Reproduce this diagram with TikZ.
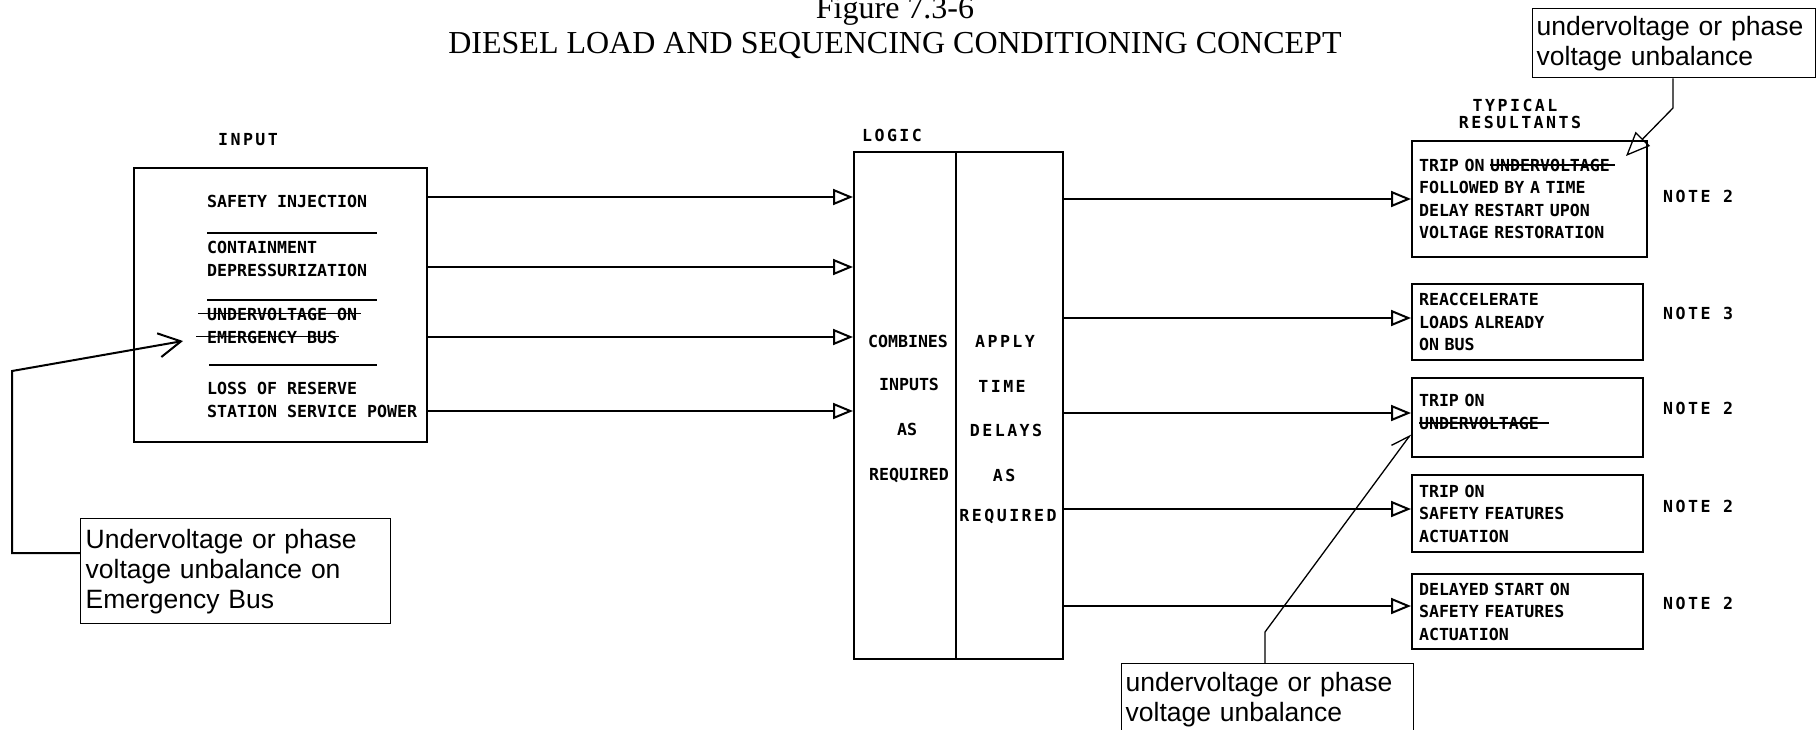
\documentclass[tikz,border=0pt]{standalone}
\usepackage{fontspec}
\setmainfont{Liberation Serif}
\newfontfamily\callfont{Liberation Sans}
\newfontfamily\letfont{DejaVu Sans Mono}
\newfontfamily\widefont[LetterSpace=15]{DejaVu Sans Mono}
\usetikzlibrary{arrows.meta}
\newcommand\strk[3]{\leavevmode\setbox0\hbox{#3}\rlap{\kern-#1\rule[0.34em]{\dimexpr\wd0+#1+#2\relax}{1.4pt}}\box0}
\begin{document}
\begin{tikzpicture}[x=1pt,y=-1pt,
  lw/.style={line width=2pt},
  thin/.style={line width=1.3pt},
  lettr/.style={font=\letfont\bfseries\fontsize{16.6}{22.5}\selectfont, inner sep=0pt},
  widelet/.style={font=\widefont\bfseries\fontsize{16.6}{22.5}\selectfont, inner sep=0pt},
  rbox/.style={draw, lw, anchor=north west, inner xsep=7pt, inner ysep=0pt, align=left,
    font=\letfont\bfseries\fontsize{16.6}{22.5}\selectfont},
  callbox/.style={draw, thin, anchor=north west, inner xsep=4pt, inner ysep=0pt, align=left,
    font=\callfont\fontsize{26.5}{30}\selectfont},
  flow/.style={lw, -{Triangle[open, length=20pt, width=16pt]}},
  sepline/.style={lw}
]
\useasboundingbox (0,0) rectangle (1820,729);

% title
\node[font=\fontsize{32}{36}\selectfont, anchor=base] (fig) at (895,18) {Figure 7.3-6};
\node[font=\fontsize{32}{36}\selectfont, anchor=base] (title) at (895,53) {DIESEL LOAD AND SEQUENCING CONDITIONING CONCEPT};

% input box
\node[draw, lw, anchor=north west, minimum width=293pt, minimum height=274pt, inner sep=0pt] (inbox) at (133,167) {};
\node[widelet] (inlbl) at (248,140) {INPUT};
\node[lettr, anchor=west] (i1) at (207,201) {SAFETY INJECTION};
\coordinate (s1a) at (207,233); \coordinate (s1b) at (377,233);
\draw[sepline] (s1a) -- (s1b);
\node[lettr, anchor=west] (i2a) at (207,247) {CONTAINMENT};
\node[lettr, anchor=west] (i2b) at (207,270) {DEPRESSURIZATION};
\coordinate (s2a) at (207,300); \coordinate (s2b) at (377,300);
\draw[sepline] (s2a) -- (s2b);
\node[lettr, anchor=west] (i3a) at (207,314) {\strk{9pt}{4pt}{UNDERVOLTAGE ON}};
\node[lettr, anchor=west] (i3b) at (207,337) {\strk{11pt}{2pt}{EMERGENCY BUS}};
\coordinate (s3a) at (209,365); \coordinate (s3b) at (377,365);
\draw[sepline] (s3a) -- (s3b);
\node[lettr, anchor=west] (i4a) at (207,388) {LOSS OF RESERVE};
\node[lettr, anchor=west] (i4b) at (207,411) {STATION SERVICE POWER};

% logic box
\node[draw, lw, anchor=north west, minimum width=209pt, minimum height=507pt, inner sep=0pt] (logic) at (853,151) {};
\node[widelet] (loglbl) at (892,135) {LOGIC};
\coordinate (div) at (956,0);
\draw[lw] (logic.north -| div) -- (logic.south -| div);
\node[lettr] (l1) at (908,341) {COMBINES};
\node[lettr] (l2) at (909,384) {INPUTS};
\node[lettr] (l3) at (907,429) {AS};
\node[lettr] (l4) at (909,475) {REQUIRED};
\node[widelet] (r1) at (1005,341) {APPLY};
\node[widelet] (r2) at (1002,386) {TIME};
\node[widelet] (r3) at (1006,430) {DELAYS};
\node[widelet] (r4) at (1004,475) {AS};
\node[widelet] (r5) at (1008,516) {REQUIRED};

% input -> logic
\foreach \y [count=\k] in {197,267,337,411}{
  \coordinate (ia\k) at (0,\y);
  \draw[flow] (inbox.east |- ia\k) -- (logic.west |- ia\k);
}

% resultants
\node[widelet] (typ1) at (1515,105) {TYPICAL};
\node[widelet] (typ2) at (1520,122) {RESULTANTS};
\node[rbox, text width=221pt, minimum height=116pt] (b1) at (1411,140)
  {TRIP ON \strk{0pt}{5pt}{UNDERVOLTAGE}\\FOLLOWED BY A TIME\\DELAY RESTART UPON\\VOLTAGE RESTORATION};
\node[rbox, text width=217pt, minimum height=76pt] (b2) at (1411,283)
  {REACCELERATE\\LOADS ALREADY\\ON BUS};
\node[rbox, text width=217pt, minimum height=79pt] (b3) at (1411,377)
  {TRIP ON\\\strk{0pt}{10pt}{UNDERVOLTAGE}\\[-11pt]\mbox{}};
\node[rbox, text width=217pt, minimum height=77pt] (b4) at (1411,474)
  {TRIP ON\\SAFETY FEATURES\\ACTUATION};
\node[rbox, text width=217pt, minimum height=75pt] (b5) at (1411,573)
  {DELAYED START ON\\SAFETY FEATURES\\ACTUATION};
\node[widelet, anchor=west] (n1) at (1663,196) {NOTE 2};
\node[widelet, anchor=west] (n2) at (1663,313) {NOTE 3};
\node[widelet, anchor=west] (n3) at (1663,408) {NOTE 2};
\node[widelet, anchor=west] (n4) at (1663,506) {NOTE 2};
\node[widelet, anchor=west] (n5) at (1663,603) {NOTE 2};

% logic -> resultants
\foreach \y/\b in {199/b1,318/b2,413/b3,509/b4,606/b5}{
  \coordinate (oa) at (0,\y);
  \draw[flow] (logic.east |- oa) -- (\b.west |- oa);
}

% callouts
\node[callbox, text width=275pt, minimum height=69pt] (c1) at (1532,8) {undervoltage or phase\\voltage unbalance};
\coordinate (k1) at (1673,108);
\coordinate (t1) at (1626,156);
\draw[thin, -{Triangle[open, length=24pt, width=20pt]}] (c1.south -| k1) -- (k1) -- (t1);

\node[callbox, text width=300pt, minimum height=105pt, inner xsep=5pt] (c2) at (80,518) {Undervoltage or phase\\voltage unbalance on\\Emergency Bus};
\coordinate (k2a) at (12,553);
\coordinate (k2b) at (12,371);
\coordinate (t2) at (183,341);
\draw[lw, -{Straight Barb[length=22pt, width=24pt]}] (c2.west |- k2a) -- (k2a) -- (k2b) -- (t2);

\node[callbox, text width=284pt, minimum height=72pt] (c3) at (1121,663) {undervoltage or phase\\voltage unbalance};
\coordinate (k3) at (1265,632);
\coordinate (t3) at (1411,434);
\draw[thin, -{Straight Barb[harpoon, length=18pt, width=18pt]}] (c3.north -| k3) -- (k3) -- (t3);
\end{tikzpicture}
\end{document}
